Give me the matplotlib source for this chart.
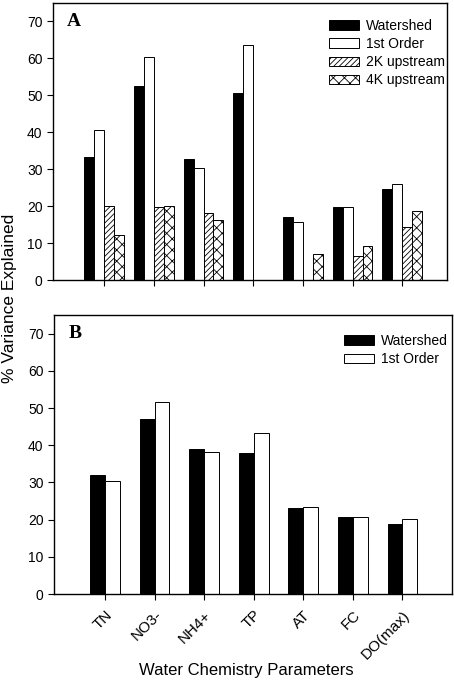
import numpy as np
import matplotlib.pyplot as plt

plt.rcParams["font.family"] = ["Liberation Sans", "DejaVu Sans"]
plt.rcParams["hatch.linewidth"] = 0.6

# Categories shared by both panels.
params = ["TN", "NO3-", "NH4+", "TP", "AT", "FC", "DO(max)"]

# Panel A values.
a_watershed = [33.2, 52.4, 32.7, 50.7, 17.1, 19.8, 24.7]
a_first = [40.6, 60.5, 30.3, 63.5, 15.8, 19.8, 26.0]
a_2k = [20.1, 19.8, 18.2, 0.0, 0.0, 6.6, 14.3]
a_4k = [12.2, 20.1, 16.2, 0.0, 7.1, 9.1, 18.7]

# Panel B values.
b_watershed = [32.0, 47.0, 38.9, 37.9, 23.2, 20.8, 18.8]
b_first = [30.5, 51.6, 38.1, 43.2, 23.4, 20.8, 20.1]

W, H = 454, 682
fig = plt.figure(figsize=(W / 100, H / 100), dpi=100)

ax_a = fig.add_axes([53 / W, 1 - 280 / H, (447 - 53) / W, (280 - 3) / H])
ax_b = fig.add_axes([54 / W, 1 - 594 / H, (452 - 54) / W, (594 - 315) / H])

x = np.arange(len(params))
edge = dict(edgecolor="black", linewidth=0.7)

# Panel A: four bars per group.
w = 0.2
ax_a.bar(x - 1.5 * w, a_watershed, w, color="black", label="Watershed", **edge)
ax_a.bar(x - 0.5 * w, a_first, w, color="white", label="1st Order", **edge)
ax_a.bar(x + 0.5 * w, a_2k, w, color="white", hatch="//////",
         label="2K upstream", **edge)
ax_a.bar(x + 1.5 * w, a_4k, w, color="white", hatch="xxx",
         label="4K upstream", **edge)

# Panel B: two bars per group.
w = 0.3
ax_b.bar(x - 0.5 * w, b_watershed, w, color="black", label="Watershed", **edge)
ax_b.bar(x + 0.5 * w, b_first, w, color="white", label="1st Order", **edge)

panels = [(ax_a, 6.9, "A", (1.013, 0.968)), (ax_b, 7.0, "B", (1.008, 0.957))]
for ax, right, letter, anchor in panels:
    ax.set_xlim(-1.03, right)
    ax.set_ylim(0, 75)
    ax.set_yticks(range(0, 71, 10))
    ax.set_xticks(x)
    ax.tick_params(direction="out", length=4, width=0.8, labelsize=10,
                   colors="black")
    for s in ax.spines.values():
        s.set_linewidth(1.0)
    ax.text(0.036, 0.965, letter, transform=ax.transAxes, ha="left", va="top",
            fontsize=14, fontweight="bold", family="Liberation Serif")
    ax.legend(loc="upper right", bbox_to_anchor=anchor, frameon=False,
              fontsize=10, handlelength=2.2, handleheight=0.65,
              labelspacing=0.3, handletextpad=0.5, borderaxespad=0.2,
              borderpad=0.3)

ax_a.set_xticklabels([])
ax_b.tick_params(axis="x", pad=6)
ax_b.set_xticklabels(params, rotation=45, ha="right", rotation_mode="anchor",
                     fontsize=11)

fig.text(2 / W, 1 - 298 / H, "% Variance Explained", rotation=90, ha="left",
         va="center", fontsize=12.5)
fig.text(246 / W, 1 - 670 / H, "Water Chemistry Parameters", ha="center",
         va="center", fontsize=12)

fig.savefig("out.png", dpi=100)
